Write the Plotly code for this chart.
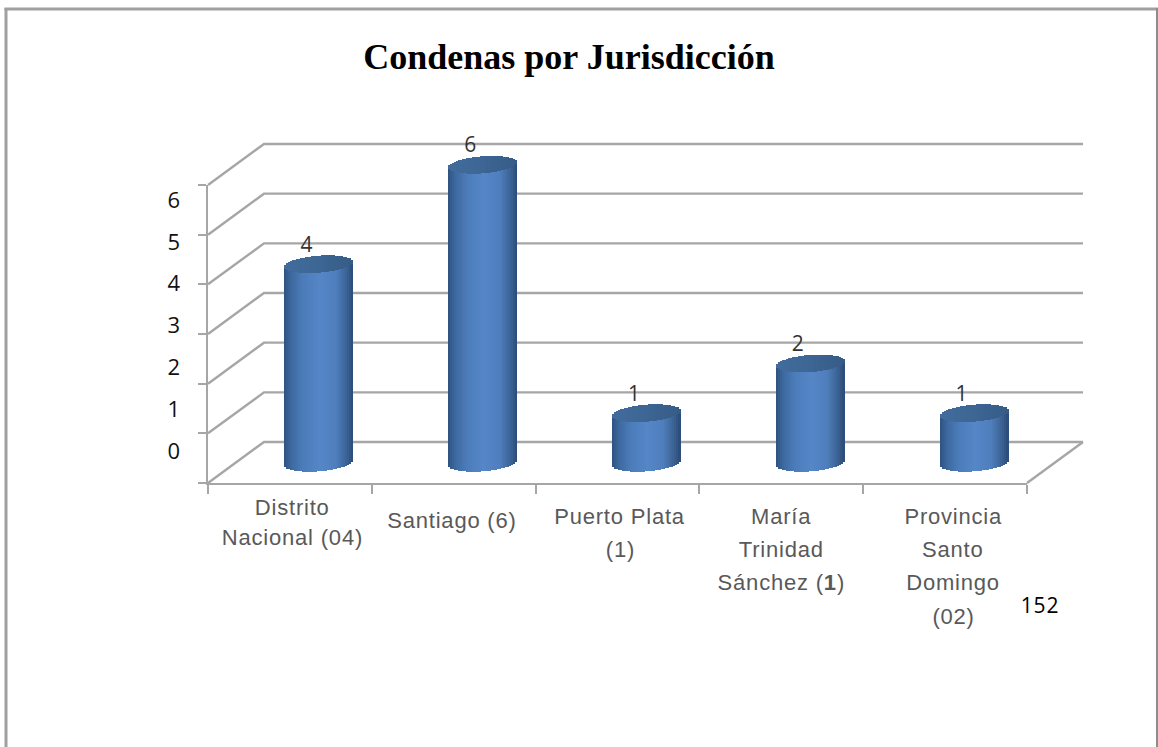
import math
import plotly.graph_objects as go

# ---- data ----
categories = ["Distrito<br>Nacional (04)", "Santiago (6)", "Puerto Plata<br>(1)",
              "María<br>Trinidad<br>Sánchez (<b>1</b>)", "Provincia<br>Santo<br>Domingo<br>(02)"]
values = [4, 6, 1, 2, 1]
y_ticks = [0, 1, 2, 3, 4, 5, 6]
title_text = "Condenas por Jurisdicción"
page_number = "152"

# ---- layout constants (pixels of the 1158x747 page) ----
W, H = 1158, 747
def px(x): return x / W
def py(y): return 1 - y / H

FRONT_L, FRONT_R, FRONT_B, FRONT_T = 208, 1027, 483, 185
BAR_DX, BAR_B = 28.5, 463
BACK_DX, BACK_DY = 56, 41
LABEL_B, LABEL_T = 451, 200
CAT_W = (FRONT_R - FRONT_L) / 5
UNIT = (FRONT_B - FRONT_T) / 6
GRID = "#a6a6a6"
R_PX, E_PX, TILT_PX = 34.25, 8.5, 2.5
STRIP_PX = 2
PAD = 0.5      # value units of spare room below/above the bars' own axis
WALL_PAD = 5   # pixels of spare room round the wall plane so its edge lines are not clipped

# where each line of a category label sits (centre x, centre y of each line)
label_x = [292, 452, 620, 781, 953]
label_y = [[507, 537], [520], [516, 549], [516, 549, 582], [516, 549, 582, 616]]

def lerp_stops(u, stops):
    for (a, ca), (b, cb) in zip(stops, stops[1:]):
        if u <= b:
            t = (u - a) / (b - a)
            return "rgb(%d,%d,%d)" % tuple(round(p + (q - p) * t) for p, q in zip(ca, cb))
    return "rgb(%d,%d,%d)" % stops[-1][1]

BODY = [(-1, (46, 82, 126)), (-0.8, (60, 104, 158)), (-0.45, (76, 124, 186)), (0.05, (85, 134, 199)),
        (0.5, (78, 126, 188)), (0.82, (58, 98, 148)), (1, (44, 75, 118))]
TOP = [(-1, (66, 108, 156)), (0, (61, 102, 148)), (1, (54, 91, 134))]

# ---- cylinder strips, all derived from the values ----
n = int(2 * R_PX / STRIP_PX)
sx, sbase, sy, scol, tbase, ty, tcol = [], [], [], [], [], [], []
for i, v in enumerate(values):
    for k in range(n):
        u = -1 + (k + 0.5) * 2 / n
        c = math.sqrt(1 - u * u)
        e = E_PX / UNIT * c
        t = TILT_PX / UNIT * u
        sx.append(i + u * R_PX / CAT_W)
        sbase.append(t - e)
        sy.append(v + e)
        scol.append(lerp_stops(u, BODY))
        tbase.append(v + t - e)
        ty.append(2 * e)
        tcol.append(lerp_stops(u, TOP))
strip_w = STRIP_PX * 1.3 / CAT_W

# ---- walls: back gridlines, side diagonals, floor edge ----
dx, dy = BACK_DX / CAT_W, BACK_DY / UNIT
wx, wy = [], []
for t in y_ticks:
    wx += [-0.5, -0.5 + dx, 4.5 + dx, None]
    wy += [t, t + dy, t + dy, None]
wx += [4.5, 4.5 + dx, None]
wy += [0, dy, None]

fig = go.Figure()
# x/y: wall plane (drawn first, under the bars)
fig.add_trace(go.Scatter(x=wx, y=wy, mode="lines", line=dict(color=GRID, width=2.4),
                         hoverinfo="skip", showlegend=False, xaxis="x", yaxis="y"))
# x2/y2: the cylinders and their value labels
fig.add_trace(go.Bar(x=sx, y=sy, base=sbase, width=strip_w, marker=dict(color=scol, line=dict(width=0)),
                     hoverinfo="skip", showlegend=False, xaxis="x2", yaxis="y2"))
fig.add_trace(go.Bar(x=sx, y=ty, base=tbase, width=strip_w, marker=dict(color=tcol, line=dict(width=0)),
                     hoverinfo="skip", showlegend=False, xaxis="x2", yaxis="y2"))
fig.add_trace(go.Scatter(x=[i - 12 / CAT_W for i in range(len(values))],
                         y=[v + 18 / UNIT for v in values],
                         text=[str(v) for v in values], mode="text", textposition="middle center",
                         textfont=dict(family="Open Sans", size=21, color="#333333"), cliponaxis=False,
                         hoverinfo="skip", showlegend=False, xaxis="x2", yaxis="y2"))
# x3/y3: front axis lines and ticks; y4: the (displaced) value tick labels
fig.add_trace(go.Scatter(x=[-0.5] * len(y_ticks), y=y_ticks, mode="markers", marker=dict(opacity=0),
                         hoverinfo="skip", showlegend=False, xaxis="x3", yaxis="y3"))
fig.add_trace(go.Scatter(x=[-0.5] * len(y_ticks), y=y_ticks, mode="markers", marker=dict(opacity=0),
                         hoverinfo="skip", showlegend=False, xaxis="x3", yaxis="y4"))

annotations = []
for cat, cx, ys in zip(categories, label_x, label_y):
    for line, cy in zip(cat.split("<br>"), ys):
        annotations.append(dict(text=line, x=px(cx), y=py(cy), xref="paper", yref="paper",
                                xanchor="center", yanchor="middle", showarrow=False,
                                font=dict(family="Liberation Sans", size=22, color="#595959")))
annotations.append(dict(text=page_number, x=px(1040), y=py(605), xref="paper", yref="paper",
                        xanchor="center", yanchor="middle", showarrow=False,
                        font=dict(family="Open Sans", size=21, color="#000000")))

border = dict(color="#a0a0a0", width=3)
shapes = [
    dict(type="line", xref="paper", yref="paper", x0=px(4.5), x1=px(1158), y0=py(9), y1=py(9), line=border),
    dict(type="line", xref="paper", yref="paper", x0=px(6), x1=px(6), y0=py(8), y1=py(747), line=border),
    dict(type="line", xref="paper", yref="paper", x0=px(1157), x1=px(1157), y0=py(8), y1=py(747),
         line=dict(color="#8c8c8c", width=2)),
]

hidden = dict(visible=False, showgrid=False, zeroline=False, automargin=False)
wall_x_pad = WALL_PAD / CAT_W
wall_y_pad = WALL_PAD / UNIT
fig.update_layout(
    template="none",
    width=W, height=H, margin=dict(l=0, r=0, t=0, b=0, pad=0), autosize=False,
    paper_bgcolor="white", plot_bgcolor="rgba(0,0,0,0)", barmode="overlay", bargap=0, showlegend=False,
    title=dict(text=title_text, x=px(569), y=py(56), xanchor="center", yanchor="middle",
               font=dict(family="Liberation Serif", size=36, color="#000000", weight="bold")),
    xaxis=dict(domain=[px(FRONT_L - WALL_PAD), px(FRONT_R + BACK_DX + WALL_PAD)],
               range=[-0.5 - wall_x_pad, 4.5 + dx + wall_x_pad], anchor="y", **hidden),
    yaxis=dict(domain=[py(FRONT_B + WALL_PAD), py(FRONT_T - BACK_DY - WALL_PAD)],
               range=[-wall_y_pad, 6 + dy + wall_y_pad], anchor="x", **hidden),
    xaxis2=dict(domain=[px(FRONT_L + BAR_DX), px(FRONT_R + BAR_DX)], range=[-0.5, 4.5], anchor="y2", **hidden),
    yaxis2=dict(domain=[py(BAR_B + PAD * UNIT), py(BAR_B - (6 + PAD) * UNIT)], range=[-PAD, 6 + PAD], anchor="x2", **hidden),
    xaxis3=dict(domain=[px(FRONT_L), px(FRONT_R)], range=[-0.5, 4.5], tickvals=[-0.5, 0.5, 1.5, 2.5, 3.5, 4.5],
                showticklabels=False, ticks="outside", ticklen=9, tickwidth=2, tickcolor=GRID, automargin=False,
                showline=True, linecolor=GRID, linewidth=2, showgrid=False, zeroline=False, anchor="y3"),
    yaxis3=dict(domain=[py(FRONT_B), py(FRONT_T)], range=[0, 6], tickvals=y_ticks, showticklabels=False,
                ticks="outside", ticklen=8, tickwidth=2, tickcolor=GRID, showline=True, linecolor=GRID, automargin=False,
                linewidth=2, showgrid=False, zeroline=False, anchor="x3"),
    yaxis4=dict(domain=[py(LABEL_B), py(LABEL_T)], range=[0, 6], tickvals=y_ticks, anchor="free", automargin=False,
                position=px(180), side="left", showline=False, showgrid=False, zeroline=False, ticks="",
                tickfont=dict(family="Open Sans", size=22, color="#111111")),
    annotations=annotations, shapes=shapes,
)

page_css = (
    "document.body.style.margin='0';"
    "var s=document.createElement('style');"
    "s.textContent='.annotation-text{letter-spacing:0.8px}';"
    "document.head.appendChild(s);"
)
fig.write_html("out.html", config={"displayModeBar": False}, post_script=page_css)
